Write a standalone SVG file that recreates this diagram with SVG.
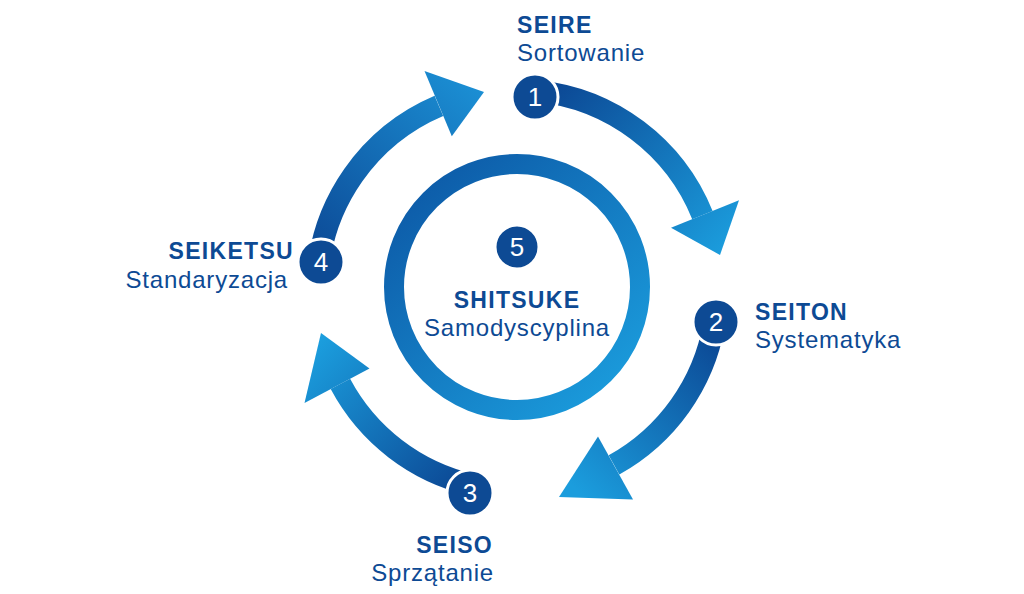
<svg xmlns="http://www.w3.org/2000/svg" width="1024" height="594" viewBox="0 0 1024 594">
<style>
.arc{fill:none;stroke-width:22}
.num circle{fill:#0d4a94;stroke:#fff;stroke-width:3}
.num text{fill:#fff;font-family:"Liberation Sans",sans-serif;font-size:26px;text-anchor:middle}
.t{fill:#0d4a94;font-family:"Liberation Sans",sans-serif;font-size:23px;font-weight:bold;letter-spacing:1.3px}
.s{fill:#0d4a94;font-family:"Liberation Sans",sans-serif;font-size:24px;letter-spacing:0.8px}
</style>
<defs>
<linearGradient id="g1" gradientUnits="userSpaceOnUse" x1="537.9" y1="91.1" x2="715" y2="262"><stop offset="0" stop-color="#0b4592"/><stop offset="1" stop-color="#1b9ddd"/></linearGradient>
<linearGradient id="g2" gradientUnits="userSpaceOnUse" x1="714" y1="324.7" x2="568.8" y2="483"><stop offset="0" stop-color="#0b4592"/><stop offset="1" stop-color="#1b9ddd"/></linearGradient>
<linearGradient id="g3" gradientUnits="userSpaceOnUse" x1="472" y1="484.9" x2="323" y2="338.4"><stop offset="0" stop-color="#0b4592"/><stop offset="1" stop-color="#1b9ddd"/></linearGradient>
<linearGradient id="g4" gradientUnits="userSpaceOnUse" x1="317.3" y1="279.5" x2="485.7" y2="92.5"><stop offset="0" stop-color="#0b4592"/><stop offset="1" stop-color="#1b8fd4"/></linearGradient>
<linearGradient id="g5" gradientUnits="userSpaceOnUse" x1="420" y1="180" x2="620" y2="400"><stop offset="0" stop-color="#0d5ba8"/><stop offset="1" stop-color="#1b9ddd"/></linearGradient>
</defs>
<g id="connectors">
<path class="arc" stroke="url(#g1)" d="M537.9,91.1 A200,200 0 0 1 702.4,215.1"/>
<polygon fill="url(#g1)" points="671,227.8 739,200.3 720,255"/>
<path class="arc" stroke="url(#g2)" d="M714,324.7 A200,200 0 0 1 614,464.9"/>
<polygon fill="url(#g2)" points="598,436.5 633,499.5 559,497"/>
<path class="arc" stroke="url(#g3)" d="M472,484.9 A200,200 0 0 1 340.4,383.9"/>
<polygon fill="url(#g3)" points="369.5,368.5 304.5,403 321,333"/>
<path class="arc" stroke="url(#g4)" d="M317.3,279.5 A200,200 0 0 1 438.9,105.9"/>
<polygon fill="url(#g4)" points="451.8,136.3 424.5,71 484,92"/>
</g>
<g id="n5">
<circle cx="517" cy="287" r="123" fill="none" stroke="url(#g5)" stroke-width="20"/>
<g class="num"><circle cx="517" cy="247" r="22"/><text x="517" y="256">5</text></g>
<text class="t" x="517" y="308" text-anchor="middle">SHITSUKE</text>
<text class="s" x="517" y="336" text-anchor="middle">Samodyscyplina</text>
</g>
<g id="n1">
<g class="num"><circle cx="535" cy="97" r="23"/><text x="535" y="106">1</text></g>
<text class="t" x="517" y="33">SEIRE</text>
<text class="s" x="517" y="61">Sortowanie</text>
</g>
<g id="n2">
<g class="num"><circle cx="716" cy="322" r="23"/><text x="716" y="331">2</text></g>
<text class="t" x="755" y="320">SEITON</text>
<text class="s" x="755" y="348">Systematyka</text>
</g>
<g id="n3">
<g class="num"><circle cx="470" cy="493" r="23"/><text x="470" y="502">3</text></g>
<text class="t" x="493" y="553" text-anchor="end">SEISO</text>
<text class="s" x="494" y="581" text-anchor="end">Sprzątanie</text>
</g>
<g id="n4">
<g class="num"><circle cx="321" cy="262" r="23"/><text x="321" y="271">4</text></g>
<text class="t" x="294" y="259" text-anchor="end">SEIKETSU</text>
<text class="s" x="288" y="288" text-anchor="end">Standaryzacja</text>
</g>
</svg>
